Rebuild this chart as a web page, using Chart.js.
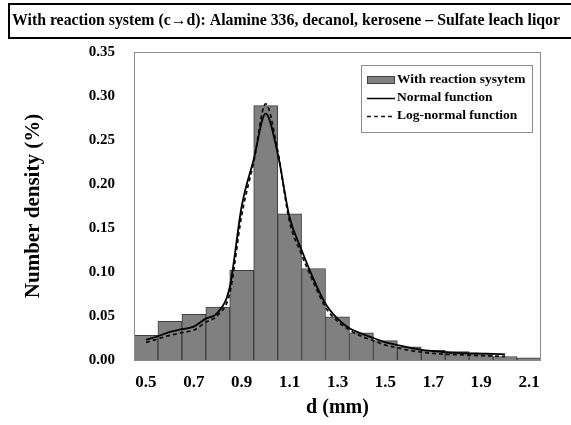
<!DOCTYPE html>
<html>
<head>
<meta charset="utf-8">
<script src="https://cdn.jsdelivr.net/npm/chart.js@4.4.1/dist/chart.umd.min.js"></script>
<style>
  html, body { margin: 0; padding: 0; background: #fff; }
  #wrap { width: 571px; height: 425px; }
</style>
</head>
<body>
<div id="wrap"><canvas id="dropChart"></canvas></div>
<script>
const titleText = 'With reaction system (c\u2192d): Alamine 336, decanol, kerosene \u2013 Sulfate leach liqor';

// histogram bins (mm) and number density
const binCenters = [0.5, 0.6, 0.7, 0.8, 0.9, 1.0, 1.1, 1.2, 1.3, 1.4, 1.5, 1.6, 1.7, 1.8, 1.9, 2.0, 2.1];
const binDensity = [0.028, 0.044, 0.052, 0.060, 0.102, 0.289, 0.166, 0.104, 0.049, 0.031, 0.022, 0.015, 0.011, 0.0095, 0.0078, 0.004, 0.0026];

// fitted curves
const fitX = [0.5, 0.55, 0.6, 0.65, 0.7, 0.75, 0.8, 0.85, 0.9, 0.95, 1.0, 1.05, 1.1, 1.15, 1.2, 1.25,
  1.3, 1.35, 1.4, 1.45, 1.5, 1.55, 1.6, 1.65, 1.7, 1.75, 1.8, 1.85, 1.9, 1.95, 2.0];
const normalFit = [0.023, 0.027, 0.032, 0.035, 0.038, 0.047, 0.054, 0.083, 0.175, 0.228, 0.280, 0.235, 0.162, 0.125, 0.092, 0.064,
  0.047, 0.036, 0.030, 0.025, 0.020, 0.017, 0.014, 0.0115, 0.010, 0.0088, 0.008, 0.0076, 0.0073, 0.007, 0.0065];
const logNormalFit = [0.020, 0.024, 0.028, 0.031, 0.034, 0.043, 0.051, 0.076, 0.165, 0.225, 0.291, 0.238, 0.157, 0.120, 0.088, 0.060,
  0.044, 0.034, 0.027, 0.022, 0.017, 0.014, 0.011, 0.009, 0.0075, 0.0065, 0.006, 0.0055, 0.005, 0.0045, 0.004];

const xTicks = [0.5, 0.7, 0.9, 1.1, 1.3, 1.5, 1.7, 1.9, 2.1];
const yTicks = [0, 0.05, 0.10, 0.15, 0.20, 0.25, 0.30, 0.35];

const serif = "'Liberation Serif', 'Times New Roman', serif";

const pairs = (xs, ys) => xs.map((x, i) => ({ x: x, y: ys[i] }));

// box title at top + frame round the plot + legend inside the plot
const decorations = {
  id: 'decorations',
  afterDraw(chart) {
    const ctx = chart.ctx;
    const a = chart.chartArea;
    ctx.save();

    ctx.strokeStyle = '#8c8c8c';
    ctx.lineWidth = 1;
    ctx.strokeRect(a.left + 0.5, a.top + 0.5, a.right - a.left - 1, a.bottom - a.top);

    ctx.strokeStyle = '#000';
    ctx.lineWidth = 2;
    ctx.strokeRect(9, 4, 570, 34);
    ctx.fillStyle = '#000';
    ctx.font = 'bold 15.8px ' + serif;
    ctx.textBaseline = 'middle';
    ctx.fillText(titleText, 12, 21);

    // legend
    const lx = 361, ly = 65, lw = 171, lh = 67;
    ctx.fillStyle = '#fff';
    ctx.fillRect(lx, ly, lw, lh);
    ctx.strokeStyle = '#8c8c8c';
    ctx.lineWidth = 1;
    ctx.strokeRect(lx + 0.5, ly + 0.5, lw, lh);
    ctx.font = 'bold 13.5px ' + serif;
    ctx.textBaseline = 'middle';
    const rows = [80, 98, 116];
    chart.data.datasets.forEach((ds, i) => {
      const y = rows[i];
      if (ds.type === 'bar') {
        ctx.fillStyle = ds.backgroundColor;
        ctx.fillRect(367, y - 4, 28, 8);
        ctx.strokeStyle = ds.borderColor;
        ctx.strokeRect(367.5, y - 3.5, 27, 7);
      } else {
        ctx.strokeStyle = ds.borderColor;
        ctx.lineWidth = 1.5;
        ctx.setLineDash(ds.borderDash || []);
        ctx.beginPath();
        ctx.moveTo(367, y + 0.5);
        ctx.lineTo(395, y + 0.5);
        ctx.stroke();
        ctx.setLineDash([]);
        ctx.lineWidth = 1;
      }
      ctx.fillStyle = '#000';
      ctx.fillText(ds.label, 397, y);
    });
    ctx.restore();
  }
};

new Chart(document.getElementById('dropChart'), {
  data: {
    datasets: [
      {
        type: 'bar',
        label: 'With reaction sysytem',
        data: pairs(binCenters, binDensity),
        backgroundColor: '#808080',
        borderColor: '#3f3f3f',
        borderWidth: 1,
        barPercentage: 1,
        categoryPercentage: 1,
        order: 3
      },
      {
        type: 'line',
        label: 'Normal function',
        data: pairs(fitX, normalFit),
        borderColor: '#000',
        borderWidth: 1.8,
        pointRadius: 0,
        cubicInterpolationMode: 'monotone',
        fill: false,
        order: 1
      },
      {
        type: 'line',
        label: 'Log-normal function',
        data: pairs(fitX, logNormalFit),
        borderColor: '#111',
        borderWidth: 1.8,
        borderDash: [4, 3],
        pointRadius: 0,
        cubicInterpolationMode: 'monotone',
        fill: false,
        order: 2
      }
    ]
  },
  options: {
    responsive: true,
    maintainAspectRatio: false,
    animation: false,
    layout: { padding: { top: 52, right: 30, left: 0, bottom: 0 } },
    plugins: {
      legend: { display: false },
      tooltip: { enabled: false }
    },
    scales: {
      x: {
        type: 'linear',
        offset: false,
        min: 0.45,
        max: 2.15,
        grid: { display: false, drawTicks: false, offset: false },
        border: { display: false },
        afterBuildTicks: (scale) => { scale.ticks = xTicks.map(v => ({ value: v })); },
        afterFit: (scale) => { scale.height = 65; },
        ticks: {
          padding: 12,
          color: '#000',
          font: { family: serif, size: 17, weight: 'bold' },
          callback: (v) => v.toFixed(1)
        },
        title: {
          display: true,
          text: 'd (mm)',
          color: '#000',
          font: { family: serif, size: 20, weight: 'bold' },
          padding: { top: 0, bottom: 5 }
        }
      },
      y: {
        min: 0,
        max: 0.35,
        grid: { display: false, drawTicks: false },
        border: { display: false },
        afterBuildTicks: (scale) => { scale.ticks = yTicks.map(v => ({ value: v })); },
        afterFit: (scale) => { scale.width = 134; },
        ticks: {
          padding: 19,
          color: '#000',
          font: { family: serif, size: 15, weight: 'bold' },
          callback: (v) => v.toFixed(2)
        },
        title: {
          display: true,
          text: 'Number density (%)',
          color: '#000',
          font: { family: serif, size: 21, weight: 'bold' },
          padding: { top: 21, bottom: 0 }
        }
      }
    }
  },
  plugins: [decorations]
});
</script>
</body>
</html>
